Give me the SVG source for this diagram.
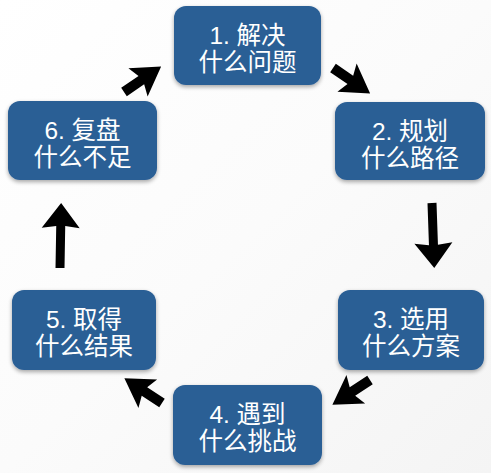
<svg xmlns="http://www.w3.org/2000/svg" width="491" height="473" viewBox="0 0 491 473">
<defs>
<linearGradient id="bg" x1="0" y1="0" x2="1" y2="1">
<stop offset="0" stop-color="#ffffff"/>
<stop offset="0.5" stop-color="#fbfbfb"/>
<stop offset="1" stop-color="#f4f4f4"/>
</linearGradient>
<filter id="sh" x="-10%" y="-10%" width="120%" height="130%">
<feGaussianBlur in="SourceAlpha" stdDeviation="2"/>
<feOffset dx="0" dy="2" result="b"/>
<feComponentTransfer><feFuncA type="linear" slope="0.35"/></feComponentTransfer>
<feMerge><feMergeNode/><feMergeNode in="SourceGraphic"/></feMerge>
</filter>
<path id="ad" d="M0,-5 L21,-5 L17,-17 L45,0 L17,17 L21,5 L0,5 Z"/>
<path id="av" d="M0,-4.5 L42,-4.5 L40,-19 L65,0 L40,19 L42,4.5 L0,4.5 Z"/>
</defs>
<style>
.box{fill:#2c5f95;filter:url(#sh)}
.t{fill:#ffffff;font-family:"Liberation Sans","Noto Sans CJK SC",sans-serif;font-size:24.5px;text-anchor:middle}
.arr{fill:#000000}
</style>
<rect width="491" height="473" fill="url(#bg)"/>
<g id="connectors" class="arr">
<use href="#ad" transform="translate(124,92) rotate(-34.4)"/>
<use href="#ad" transform="translate(333,68) rotate(34.4)"/>
<use href="#av" transform="translate(432,203) rotate(88)"/>
<use href="#ad" transform="translate(370,380) rotate(146.7)"/>
<use href="#ad" transform="translate(162,403) rotate(213.3)"/>
<use href="#av" transform="translate(60,268) rotate(-89)"/>
</g>
<g id="n1"><rect class="box" x="174" y="6" width="147" height="79" rx="12"/><text class="t" x="247.5" y="43.5">1. 解决<tspan x="247.5" dy="27.5">什么问题</tspan></text></g>
<g id="n2"><rect class="box" x="335" y="102" width="150" height="78" rx="12"/><text class="t" x="410" y="139.5">2. 规划<tspan x="410" dy="27.5">什么路径</tspan></text></g>
<g id="n3"><rect class="box" x="338" y="290" width="146" height="80" rx="12"/><text class="t" x="411" y="327.5">3. 选用<tspan x="411" dy="27.5">什么方案</tspan></text></g>
<g id="n4"><rect class="box" x="173" y="385" width="149" height="80" rx="12"/><text class="t" x="247.5" y="422.5">4. 遇到<tspan x="247.5" dy="27.5">什么挑战</tspan></text></g>
<g id="n5"><rect class="box" x="12" y="290" width="144" height="80" rx="12"/><text class="t" x="84" y="327.5">5. 取得<tspan x="84" dy="27.5">什么结果</tspan></text></g>
<g id="n6"><rect class="box" x="8" y="101" width="149" height="79" rx="12"/><text class="t" x="82.5" y="138.5">6. 复盘<tspan x="82.5" dy="27.5">什么不足</tspan></text></g>
</svg>
